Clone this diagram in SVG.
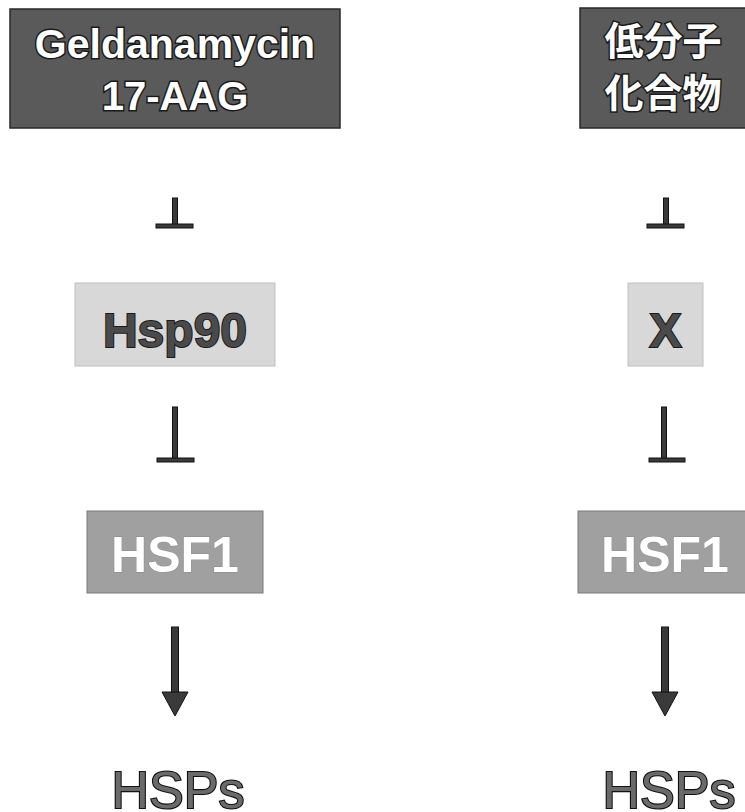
<svg xmlns="http://www.w3.org/2000/svg" width="745" height="812" viewBox="0 0 745 812">
<style>
.dark{fill:#5a5a5a;stroke:#2a2a2a;stroke-width:1.5}
.light{fill:#d8d8d8;stroke:#c0c0c0;stroke-width:1}
.mid{fill:#a0a0a0;stroke:#7a7a7a;stroke-width:1}
text{paint-order:stroke;text-anchor:middle}
.wt{font-family:"Liberation Sans",Arial,sans-serif;font-weight:bold;fill:#ffffff;stroke:#1a1a1a;stroke-width:3}
.cjk{font-family:"Noto Sans CJK JP","Noto Sans CJK SC",sans-serif;font-weight:bold;fill:#ffffff;stroke:#1a1a1a;stroke-width:3}
.dt{font-family:"Liberation Sans",Arial,sans-serif;font-weight:bold;fill:#4a4a4a;stroke:#1a1a1a;stroke-width:2}
.ht{font-family:"Liberation Sans",Arial,sans-serif;font-weight:bold;fill:#ffffff;stroke:#8a8a8a;stroke-width:1}
.hs{font-family:"Liberation Sans",Arial,sans-serif;fill:#6a6a6a;stroke:#111;stroke-width:2.2}
.ln{fill:#3a3a3a;stroke:#111;stroke-width:1}
</style>
<g id="geldanamycin">
<rect class="dark" x="10" y="9" width="330" height="119"/>
<text class="wt" x="175" y="58" font-size="41">Geldanamycin</text>
<text class="wt" x="175" y="110" font-size="40">17-AAG</text>
</g>
<g id="compound">
<rect class="dark" x="580" y="8" width="170" height="120"/>
<text class="cjk" x="663" y="55" font-size="39">低分子</text>
<text class="cjk" x="663" y="107" font-size="39">化合物</text>
</g>
<g id="hsp90">
<rect class="light" x="75" y="283" width="200" height="83"/>
<text class="dt" x="175" y="347" font-size="48">Hsp90</text>
</g>
<g id="x">
<rect class="light" x="628" y="283" width="75" height="83"/>
<text class="dt" x="665.5" y="347" font-size="48">X</text>
</g>
<g id="hsf1-left">
<rect class="mid" x="87" y="511" width="176" height="82"/>
<text class="ht" x="175" y="572" font-size="50">HSF1</text>
</g>
<g id="hsf1-right">
<rect class="mid" x="578" y="511" width="174" height="82"/>
<text class="ht" x="665" y="572" font-size="50">HSF1</text>
</g>
<g id="hsps-left">
<text class="hs" x="178" y="808" font-size="52">HSPs</text>
</g>
<g id="hsps-right">
<text class="hs" x="669" y="808" font-size="52">HSPs</text>
</g>
<g id="connectors">
<rect class="ln" x="172.5" y="198" width="5" height="27"/>
<rect class="ln" x="156" y="224" width="37" height="4"/>
<rect class="ln" x="663.5" y="198" width="5" height="27"/>
<rect class="ln" x="647" y="224" width="37" height="4"/>
<rect class="ln" x="172.5" y="407" width="5" height="52"/>
<rect class="ln" x="157" y="458" width="37" height="4"/>
<rect class="ln" x="661.5" y="407" width="5" height="52"/>
<rect class="ln" x="649" y="458" width="36" height="4"/>
<rect class="ln" x="171.5" y="627" width="7" height="66"/>
<polygon class="ln" points="162,692 188,692 175,716"/>
<rect class="ln" x="661.5" y="627" width="7" height="66"/>
<polygon class="ln" points="652,692 678,692 665,716"/>
</g>
</svg>
